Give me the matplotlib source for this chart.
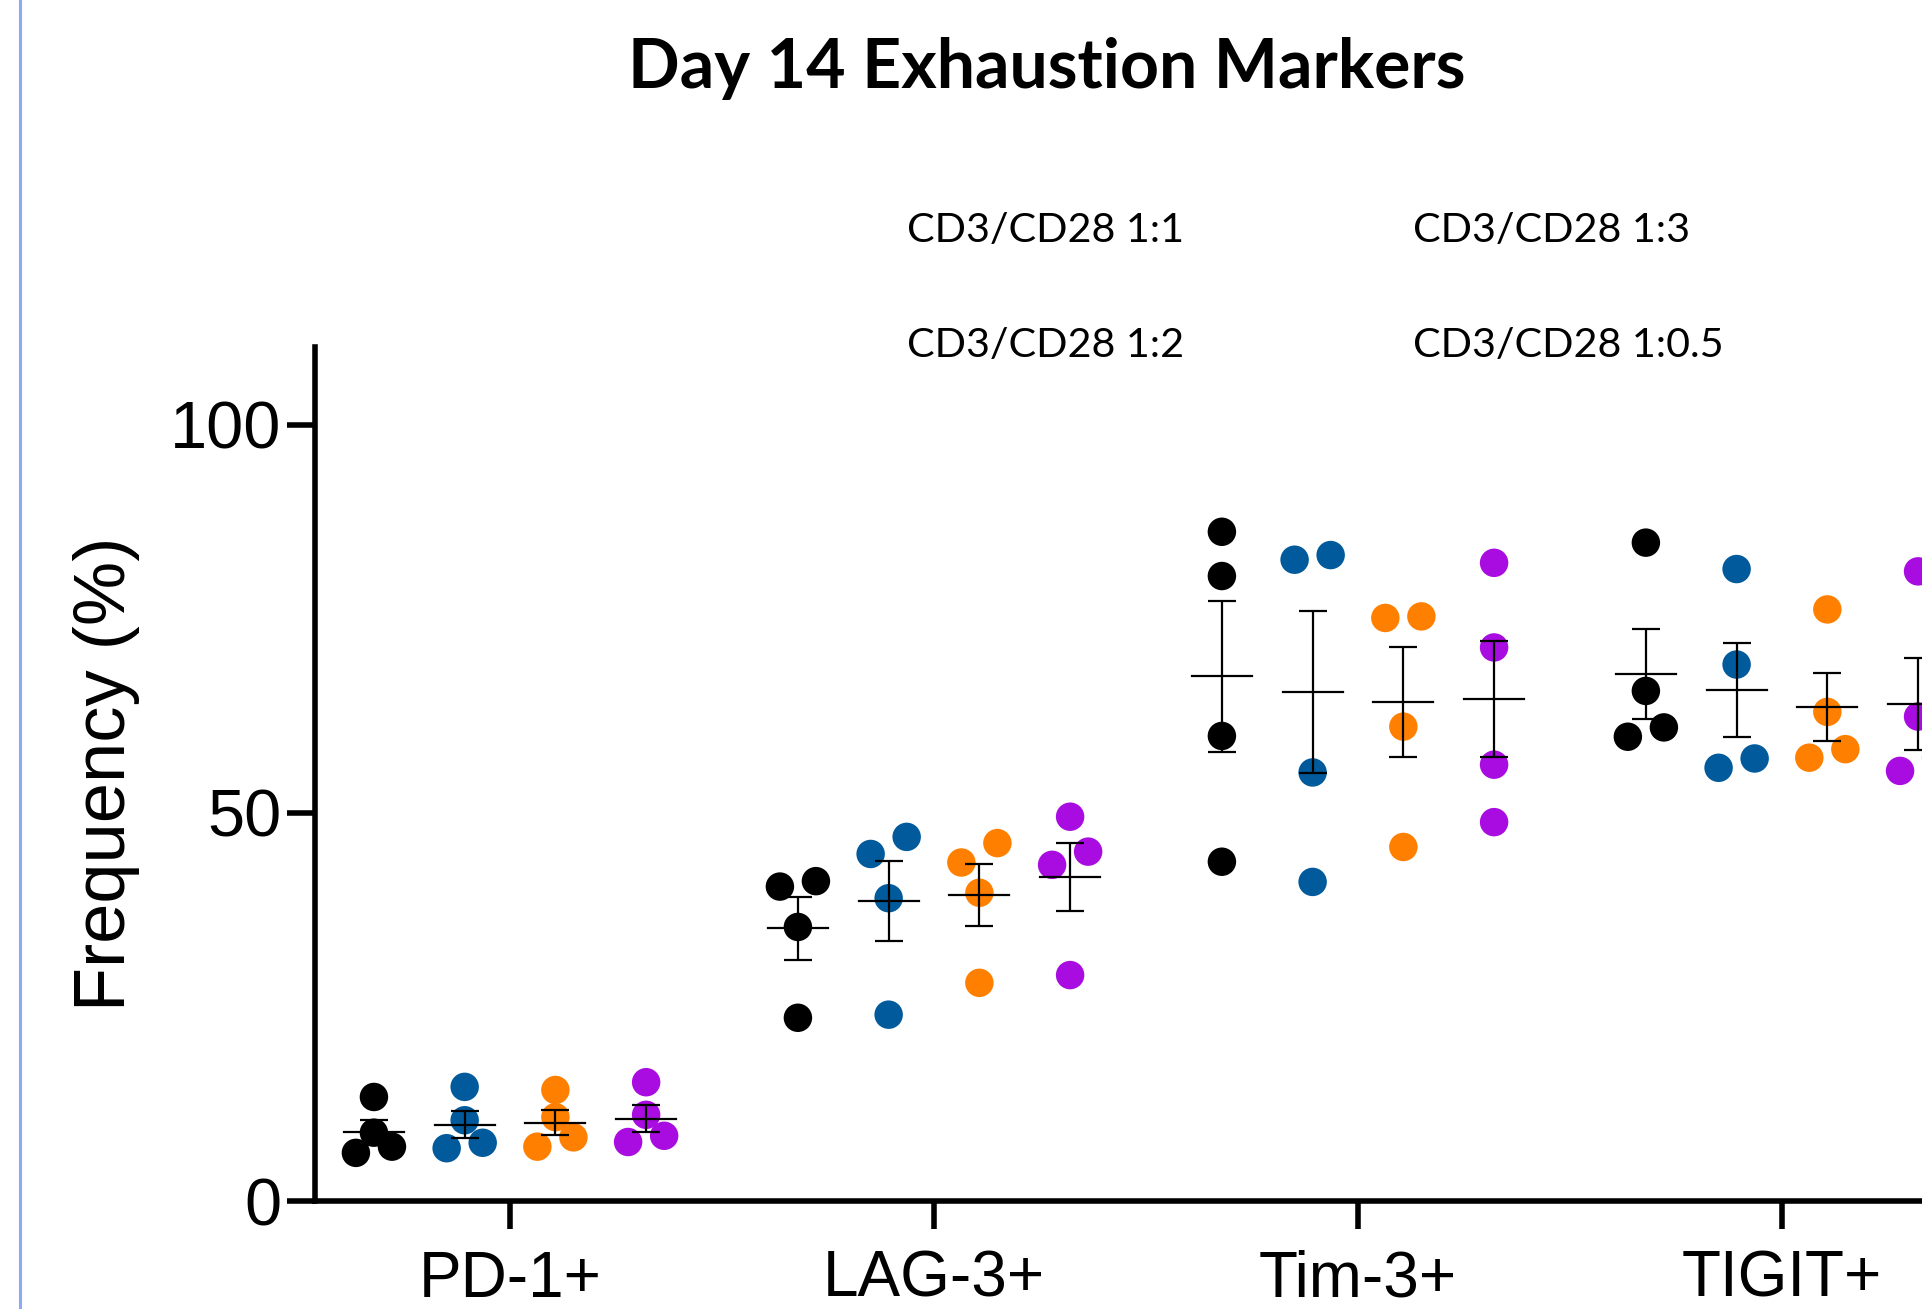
import numpy as np
import matplotlib
matplotlib.use('Agg')
import matplotlib.pyplot as plt
from matplotlib.lines import Line2D

markers = ['PD-1+', 'LAG-3+', 'Tim-3+', 'TIGIT+']
conditions = ['CD3/CD28 1:1', 'CD3/CD28 1:2', 'CD3/CD28 1:3', 'CD3/CD28 1:0.5']
colors = ['#000000', '#005A9C', '#FF8000', '#A90CE0']

# frequency (%) per donor, one list per marker
ratio_1_1 = [[13.4, 8.8, 7.0, 6.2], [40.5, 41.2, 35.3, 23.6], [86.2, 80.5, 59.9, 43.7], [84.8, 65.7, 59.8, 61.0]]
ratio_1_2 = [[14.7, 10.4, 7.5, 6.8], [44.7, 46.9, 39.0, 24.0], [82.6, 83.2, 55.2, 41.1], [81.4, 69.1, 55.8, 57.0]]
ratio_1_3 = [[14.3, 10.8, 7.0, 8.2], [43.6, 46.1, 39.7, 28.1], [75.1, 75.3, 61.1, 45.6], [76.2, 63.0, 57.1, 58.2]]
ratio_1_05 = [[15.3, 11.1, 7.6, 8.4], [45.0, 49.5, 43.3, 29.1], [82.2, 71.3, 56.2, 48.8], [81.1, 62.4, 55.4, 57.1]]
all_data = [ratio_1_1, ratio_1_2, ratio_1_3, ratio_1_05]

offsets = [-0.321, -0.107, 0.107, 0.321]
step = 0.0425      # horizontal spread of overlapping dots
row_gap = 2.55     # values closer than this share a row
mean_half = 0.071
tick_font = 'Liberation Sans'


def spread(vals):
    # prism-like: dots at nearly the same height sit side by side
    order = np.argsort(vals)
    dx = np.zeros(len(vals))
    rows = []
    for i in order:
        if rows and vals[i] - vals[rows[-1][0]] < row_gap:
            rows[-1].append(i)
        else:
            rows.append([i])
    for r in rows:
        k = len(r)
        for j, i in enumerate(r):
            dx[i] = (j - (k - 1) / 2) * 2 * step
    return dx


fig = plt.figure(figsize=(19.22, 13.09), dpi=100)
ax = fig.add_axes([315/1922, 108/1309, 1662/1922, 854/1309])

for c, data in enumerate(all_data):
    for m, vals in enumerate(data):
        vals = np.array(vals)
        xc = m + offsets[c]
        ax.scatter(xc + spread(vals), vals, s=420, color=colors[c], edgecolors='none', zorder=2)
        mean = vals.mean()
        sem = vals.std(ddof=1) / np.sqrt(len(vals))
        ax.errorbar(xc, mean, yerr=sem, fmt='none', ecolor='black', elinewidth=1.6,
                    capsize=10.4, capthick=1.6, zorder=3)
        ax.plot([xc - mean_half, xc + mean_half], [mean, mean], color='black', lw=1.6, zorder=3)

ax.set_xlim(-0.46, 3.46)
ax.set_ylim(0, 110)
ax.set_xticks(range(len(markers)))
ax.set_xticklabels(markers, fontsize=46, family=tick_font)
ax.set_yticks([0, 50, 100])
ax.set_yticklabels(['0', '50', '100'], fontsize=48, family=tick_font)
ax.tick_params(axis='x', length=20, width=4, pad=15)
ax.tick_params(axis='y', length=20, width=4, pad=4)
for side in ['top', 'right']:
    ax.spines[side].set_visible(False)
for side in ['left', 'bottom']:
    ax.spines[side].set_linewidth(4)

ax.set_ylabel('Frequency (%)', fontsize=52, family=tick_font)
ax.yaxis.set_label_coords(-0.105, 0.5)

fig.text(0.5444, 0.9328, 'Day 14 Exhaustion Markers', ha='center', va='baseline',
         fontsize=49, fontweight='bold', family='Lato')

legend_x = [0.4719, 0.4719, 0.7352, 0.7352]
legend_y = [0.8155, 0.7273, 0.8155, 0.7273]
for c, name in enumerate(conditions):
    fig.text(legend_x[c], legend_y[c], name, ha='left', va='baseline', fontsize=29.7, family='Lato')

fig.add_artist(Line2D([0.0104, 0.0104], [0, 1], color='#8DA9F5', lw=2.2))

fig.savefig('out.png', dpi=100)
